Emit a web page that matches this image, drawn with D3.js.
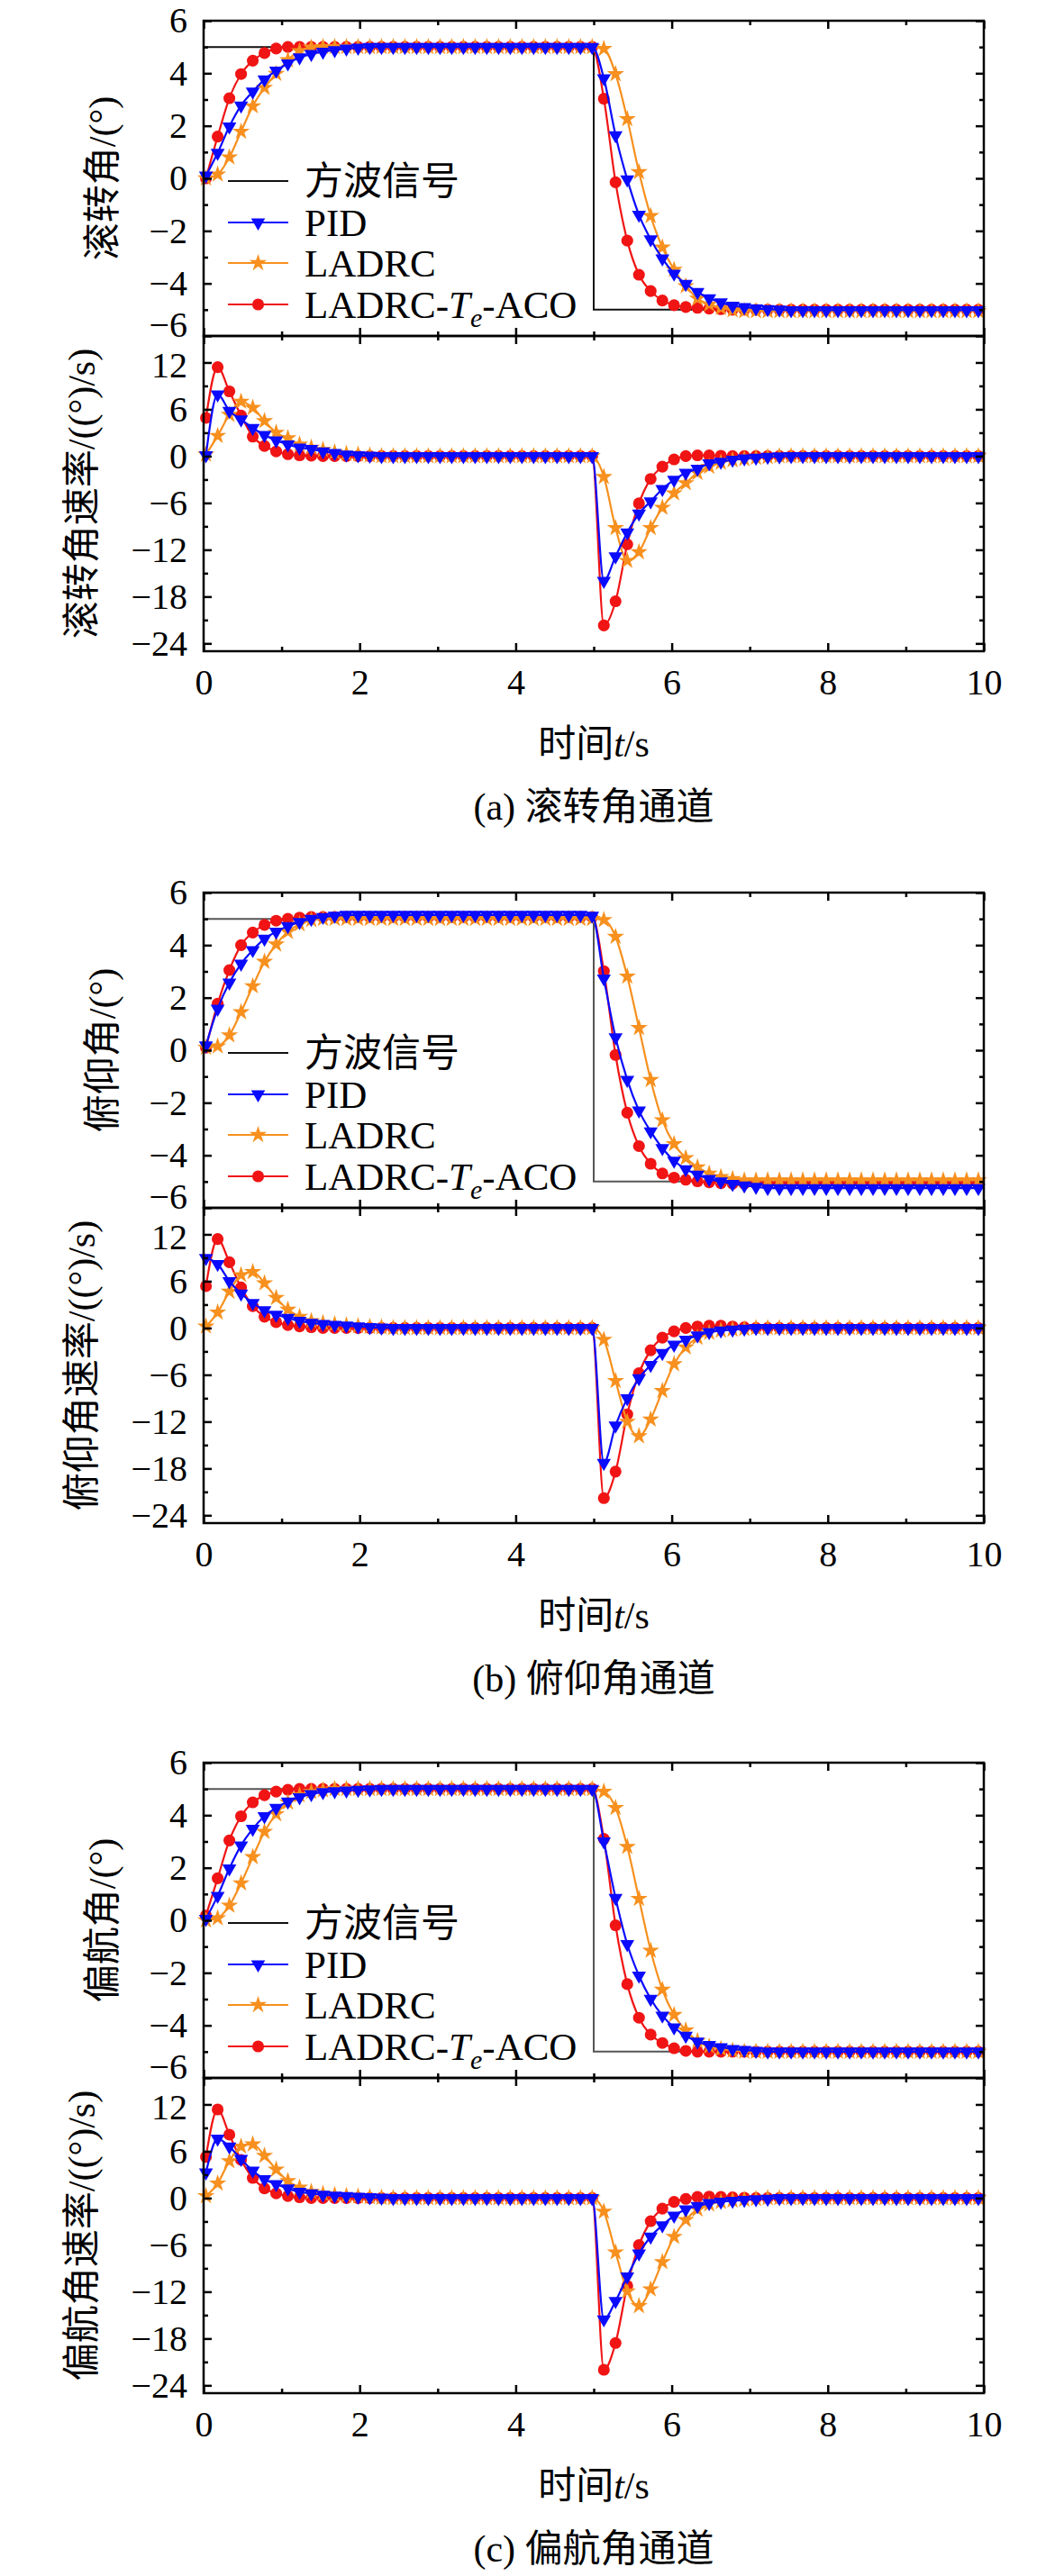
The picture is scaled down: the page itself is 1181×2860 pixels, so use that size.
<!DOCTYPE html>
<html>
<head>
<meta charset="utf-8">
<script src="https://cdn.jsdelivr.net/npm/d3@7"></script>
<style>
  body { margin: 0; background: #fff; }
</style>
</head>
<body>
<div id="chart"></div>
<script>
// sample times of the plotted points (s)
const times = [
  0.03, 0.18, 0.33, 0.48, 0.63, 0.78, 0.93, 1.08, 1.23, 1.38,
  1.53, 1.68, 1.83, 1.98, 2.13, 2.28, 2.43, 2.58, 2.73, 2.88,
  3.03, 3.18, 3.33, 3.48, 3.63, 3.78, 3.93, 4.08, 4.23, 4.38,
  4.53, 4.68, 4.83, 4.98, 5.13, 5.28, 5.43, 5.58, 5.73, 5.88,
  6.03, 6.18, 6.33, 6.48, 6.63, 6.78, 6.93, 7.08, 7.23, 7.38,
  7.53, 7.68, 7.83, 7.98, 8.13, 8.28, 8.43, 8.58, 8.73, 8.88,
  9.03, 9.18, 9.33, 9.48, 9.63, 9.78, 9.93
];

const squareT = [0, 5, 5, 10];
const squareV = [5, 5, -5, -5];

// roll channel
const rollPid = [
  0.1, 0.97, 1.97, 2.77, 3.3, 3.76, 4.1, 4.37, 4.6, 4.73, 4.82, 4.88, 4.94, 4.97, 5, 5,
  5, 5, 5, 5, 5, 5, 5, 5, 5, 5, 5, 5, 5, 5, 5, 5, 5,
  5,
  3.81, 1.64, -0.04, -1.39, -2.32, -3.05, -3.63, -4.02, -4.33, -4.57, -4.72, -4.85, -4.9, -4.95, -4.98, -5,
  -5.02, -5.02, -5.02, -5.02, -5.02, -5.02, -5.02, -5.02, -5.02, -5.02, -5.02, -5.02, -5.02, -5.02, -5.02, -5.02, -5.02
];
const rollLadrc = [
  0, 0.15, 0.8, 1.78, 2.75, 3.45, 3.98, 4.5, 4.85, 4.98, 5, 5, 5, 5, 5, 5,
  5, 5, 5, 5, 5, 5, 5, 5, 5, 5, 5, 5, 5, 5, 5, 5, 5,
  5,
  4.93, 3.97, 2.26, 0.24, -1.43, -2.63, -3.48, -4.1, -4.57, -4.8, -4.93, -5.02, -5.05, -5.05, -5.05, -5.05,
  -5.05, -5.05, -5.05, -5.05, -5.05, -5.05, -5.05, -5.05, -5.05, -5.05, -5.05, -5.05, -5.05, -5.05, -5.05, -5.05, -5.05
];
const rollAco = [
  0, 1.59, 3.05, 3.97, 4.48, 4.77, 4.94, 5, 5, 5, 5, 5, 5, 5, 5, 5,
  5, 5, 5, 5, 5, 5, 5, 5, 5, 5, 5, 5, 5, 5, 5, 5, 5,
  5,
  3.03, -0.15, -2.37, -3.67, -4.29, -4.65, -4.83, -4.9, -4.93, -4.96, -4.98, -5, -5, -5, -5, -5,
  -5, -5, -5, -5, -5, -5, -5, -5, -5, -5, -5, -5, -5, -5, -5, -5, -5
];
const rollRatePid = [
  0.1, 7.9, 5.8, 4.7, 3.6, 2.7, 2.0, 1.5, 1.1, 0.9, 0.6, 0.4, 0.2, 0.1, 0.05, 0,
  0, 0, 0, 0, 0, 0, 0, 0, 0, 0, 0, 0, 0, 0, 0, 0, 0,
  0,
  -16.0, -12.85, -9.8, -7.37, -5.8, -4.23, -3.03, -2.14, -1.62, -0.94, -0.73, -0.47, -0.31, -0.2, -0.1, -0.05,
  0, 0, 0, 0, 0, 0, 0, 0, 0, 0, 0, 0, 0, 0, 0, 0, 0
];
const rollRateLadrc = [
  0.2, 2.6, 5.3, 7.0, 6.2, 4.5, 3.0, 2.3, 1.5, 1.1, 0.8, 0.5, 0.3, 0.2, 0.1, 0,
  0, 0, 0, 0, 0, 0, 0, 0, 0, 0, 0, 0, 0, 0, 0, 0, 0,
  0,
  -2.66, -9.2, -13.4, -12.3, -9.2, -6.6, -4.75, -3.45, -2.14, -1.35, -0.83, -0.52, -0.35, -0.2, -0.1, 0,
  0, 0, 0, 0, 0, 0, 0, 0, 0, 0, 0, 0, 0, 0, 0, 0, 0
];
const rollRateAco = [
  4.9, 11.4, 8.3, 5.2, 2.5, 1.3, 0.6, 0.25, 0.1, 0.05, 0, 0, 0, 0, 0, 0,
  0, 0, 0, 0, 0, 0, 0, 0, 0, 0, 0, 0, 0, 0, 0, 0, 0,
  0,
  -21.7, -18.6, -11.3, -6.06, -2.92, -1.35, -0.42, 0, 0.1, 0.1, 0.05, 0, 0, 0, 0, 0,
  0, 0, 0, 0, 0, 0, 0, 0, 0, 0, 0, 0, 0, 0, 0, 0, 0
];

// pitch channel
const pitchPid = [
  0.18, 1.58, 2.57, 3.29, 3.81, 4.24, 4.51, 4.72, 4.88, 5.0, 5.07, 5.12, 5.15, 5.15, 5.15, 5.15,
  5.15, 5.15, 5.15, 5.15, 5.15, 5.15, 5.15, 5.15, 5.15, 5.15, 5.15, 5.15, 5.15, 5.15, 5.15, 5.15, 5.15,
  5.12,
  2.73, 0.49, -1.13, -2.3, -3.09, -3.73, -4.21, -4.53, -4.74, -4.9, -5.0, -5.09, -5.15, -5.2, -5.25, -5.25,
  -5.25, -5.25, -5.25, -5.25, -5.25, -5.25, -5.25, -5.25, -5.25, -5.25, -5.25, -5.25, -5.25, -5.25, -5.25, -5.25, -5.25
];
const pitchLadrc = [
  0.1, 0.15, 0.57, 1.45, 2.44, 3.37, 4.03, 4.51, 4.8, 4.96, 5, 5, 5, 5, 5, 5,
  5, 5, 5, 5, 5, 5, 5, 5, 5, 5, 5, 5, 5, 5, 5, 5, 5,
  5,
  4.96, 4.32, 2.81, 0.85, -1.13, -2.66, -3.57, -4.1, -4.45, -4.69, -4.82, -4.9, -4.95, -4.95, -4.95, -4.95,
  -4.95, -4.95, -4.95, -4.95, -4.95, -4.95, -4.95, -4.95, -4.95, -4.95, -4.95, -4.95, -4.95, -4.95, -4.95, -4.95, -4.95
];
const pitchAco = [
  0.1, 1.77, 3.05, 4.0, 4.48, 4.77, 4.93, 5.0, 5.05, 5.07, 5.07, 5.07, 5.07, 5.07, 5.07, 5.07,
  5.07, 5.07, 5.07, 5.07, 5.07, 5.07, 5.07, 5.07, 5.07, 5.07, 5.07, 5.07, 5.07, 5.07, 5.07, 5.07, 5.07,
  5.07,
  3.01, -0.18, -2.38, -3.65, -4.32, -4.69, -4.85, -4.93, -4.99, -5.03, -5.06, -5.08, -5.08, -5.08, -5.08, -5.08,
  -5.08, -5.08, -5.08, -5.08, -5.08, -5.08, -5.08, -5.08, -5.08, -5.08, -5.08, -5.08, -5.08, -5.08, -5.08, -5.08, -5.08
];
const pitchRatePid = [
  8.97, 8.2, 6.0, 4.4, 3.2, 2.26, 1.7, 1.3, 0.9, 0.65, 0.5, 0.4, 0.3, 0.2, 0.1, 0.05,
  0, 0, 0, 0, 0, 0, 0, 0, 0, 0, 0, 0, 0, 0, 0, 0, 0,
  0,
  -17.3, -12.5, -9.0, -6.45, -4.73, -3.22, -2.15, -1.5, -0.97, -0.54, -0.32, -0.2, -0.1, 0, 0, 0,
  0, 0, 0, 0, 0, 0, 0, 0, 0, 0, 0, 0, 0, 0, 0, 0, 0
];
const pitchRateLadrc = [
  0.2, 2.0, 4.67, 6.8, 7.2, 5.75, 3.87, 2.36, 1.45, 0.9, 0.65, 0.5, 0.35, 0.25, 0.15, 0.1,
  0, 0, 0, 0, 0, 0, 0, 0, 0, 0, 0, 0, 0, 0, 0, 0, 0,
  0,
  -1.5, -6.77, -12.0, -13.86, -11.7, -8.06, -4.62, -2.47, -1.24, -0.6, -0.32, -0.2, -0.1, 0, 0, 0,
  0, 0, 0, 0, 0, 0, 0, 0, 0, 0, 0, 0, 0, 0, 0, 0, 0
];
const pitchRateAco = [
  5.37, 11.4, 8.43, 5.2, 2.8, 1.45, 0.75, 0.38, 0.2, 0.1, 0, 0, 0, 0, 0, 0,
  0, 0, 0, 0, 0, 0, 0, 0, 0, 0, 0, 0, 0, 0, 0, 0, 0,
  0,
  -21.8, -18.4, -11.06, -5.8, -2.85, -1.24, -0.43, 0, 0.2, 0.3, 0.3, 0.2, 0.1, 0, 0, 0,
  0, 0, 0, 0, 0, 0, 0, 0, 0, 0, 0, 0, 0, 0, 0, 0, 0
];

// yaw channel
const yawPid = [
  0.05, 0.93, 1.97, 2.85, 3.48, 3.96, 4.28, 4.52, 4.68, 4.8, 4.88, 4.91, 4.94, 4.96, 4.98, 5,
  5, 5, 5, 5, 5, 5, 5, 5, 5, 5, 5, 5, 5, 5, 5, 5, 5,
  5,
  3.0, 0.85, -0.91, -2.11, -2.99, -3.63, -4.08, -4.4, -4.62, -4.75, -4.83, -4.9, -4.94, -4.97, -5, -5,
  -5, -5, -5, -5, -5, -5, -5, -5, -5, -5, -5, -5, -5, -5, -5, -5, -5
];
const yawLadrc = [
  0, 0.08, 0.56, 1.41, 2.41, 3.37, 4.04, 4.49, 4.76, 4.89, 4.95, 5, 5, 5, 5, 5,
  5, 5, 5, 5, 5, 5, 5, 5, 5, 5, 5, 5, 5, 5, 5, 5, 5,
  5,
  4.9, 4.28, 2.8, 0.82, -1.15, -2.64, -3.6, -4.19, -4.59, -4.8, -4.9, -4.96, -5, -5, -5, -5,
  -5, -5, -5, -5, -5, -5, -5, -5, -5, -5, -5, -5, -5, -5, -5, -5, -5
];
const yawAco = [
  0.18, 1.6, 3.04, 3.96, 4.49, 4.76, 4.9, 4.97, 5, 5, 5, 5, 5, 5, 5, 5,
  5, 5, 5, 5, 5, 5, 5, 5, 5, 5, 5, 5, 5, 5, 5, 5, 5,
  5,
  3.1, -0.19, -2.43, -3.71, -4.35, -4.67, -4.87, -4.97, -5, -5, -5, -5, -5, -5, -5, -5,
  -5, -5, -5, -5, -5, -5, -5, -5, -5, -5, -5, -5, -5, -5, -5, -5, -5
];
const yawRatePid = [
  3.28, 7.6, 6.6, 5.0, 3.5, 2.42, 1.78, 1.24, 0.8, 0.6, 0.43, 0.32, 0.25, 0.15, 0.1, 0.05,
  0, 0, 0, 0, 0, 0, 0, 0, 0, 0, 0, 0, 0, 0, 0, 0, 0,
  0,
  -15.55, -13.2, -10.06, -7.1, -4.95, -3.5, -2.26, -1.45, -1.02, -0.65, -0.48, -0.35, -0.25, -0.15, -0.1, 0,
  0, 0, 0, 0, 0, 0, 0, 0, 0, 0, 0, 0, 0, 0, 0, 0, 0
];
const yawRateLadrc = [
  0.27, 1.88, 4.74, 6.62, 6.89, 5.44, 3.66, 2.2, 1.35, 0.8, 0.55, 0.4, 0.3, 0.2, 0.12, 0.05,
  0, 0, 0, 0, 0, 0, 0, 0, 0, 0, 0, 0, 0, 0, 0, 0, 0,
  0,
  -1.72, -6.94, -11.95, -13.83, -11.68, -8.18, -4.95, -2.8, -1.45, -0.8, -0.48, -0.3, -0.2, -0.1, 0, 0,
  0, 0, 0, 0, 0, 0, 0, 0, 0, 0, 0, 0, 0, 0, 0, 0, 0
];
const yawRateAco = [
  5.27, 11.36, 8.13, 4.9, 2.58, 1.24, 0.6, 0.27, 0.1, 0, 0, 0, 0, 0, 0, 0,
  0, 0, 0, 0, 0, 0, 0, 0, 0, 0, 0, 0, 0, 0, 0, 0, 0,
  0,
  -22.0, -18.57, -11.25, -6.03, -2.96, -1.35, -0.48, -0.1, 0.16, 0.2, 0.15, 0.1, 0.05, 0, 0, 0,
  0, 0, 0, 0, 0, 0, 0, 0, 0, 0, 0, 0, 0, 0, 0, 0, 0
];

const xTicks = [0, 2, 4, 6, 8, 10];
const xMinor = [1, 3, 5, 7, 9];
const angleTicks = [-6, -4, -2, 0, 2, 4, 6];
const angleMinor = [-5, -3, -1, 1, 3, 5];
const rateTicks = [-24, -18, -12, -6, 0, 6, 12];
const rateMinor = [-21, -15, -9, -3, 3, 9];

const channels = [
  { top: 23, name: '滚转角', caption: '(a) 滚转角通道', sqColor: '#111',
    angle: [rollPid, rollLadrc, rollAco], rate: [rollRatePid, rollRateLadrc, rollRateAco] },
  { top: 991, name: '俯仰角', caption: '(b) 俯仰角通道', sqColor: '#555',
    angle: [pitchPid, pitchLadrc, pitchAco], rate: [pitchRatePid, pitchRateLadrc, pitchRateAco] },
  { top: 1957, name: '偏航角', caption: '(c) 偏航角通道', sqColor: '#555',
    angle: [yawPid, yawLadrc, yawAco], rate: [yawRatePid, yawRateLadrc, yawRateAco] }
];

const series = [
  { label: 'PID', color: '#0a0aff', symbol: d3.symbolTriangle, size: 105, rotate: 180 },
  { label: 'LADRC', color: '#f7901e', symbol: d3.symbolStar, size: 115, rotate: 0 },
  { label: 'LADRC-Te-ACO', color: '#f01414', symbol: d3.symbolCircle, size: 135, rotate: 0 }
];

const W = 1181, H = 2860;
const left = 226, right = 1092, panelH = 350;
const serif = "'Liberation Serif', 'Times New Roman', 'Noto Sans CJK SC', serif";
const fs = 42;
const tickFs = 40;

const svg = d3.select('#chart').append('svg')
  .attr('width', W)
  .attr('height', H)
  .style('background', '#fff');

const x = d3.scaleLinear().domain([0, 10]).range([left, right]);

function styleAxis(g) {
  g.select('.domain').remove();
  g.selectAll('line').attr('stroke', '#000').attr('stroke-width', 2.5);
  g.selectAll('text')
    .attr('fill', '#000')
    .style('font-family', serif)
    .style('font-size', tickFs + 'px');
}

function frame(g, y, top, major, minor, isRate) {
  const bottom = top + panelH;
  const add = (axis, tx, ty) => g.append('g')
    .attr('transform', `translate(${tx},${ty})`)
    .call(axis)
    .call(styleAxis);

  // y ticks, left with labels, right mirrored
  const yl = add(d3.axisLeft(y).tickValues(major).tickSize(-9).tickSizeOuter(0).tickPadding(18), left, 0);
  // keep the end labels of the two stacked panels apart
  yl.selectAll('text').filter(d => d === -6 && !isRate).attr('dy', '0em');
  yl.selectAll('text').filter(d => d === 12 && isRate).attr('dy', '0.4em');
  add(d3.axisLeft(y).tickValues(minor).tickSize(-5).tickSizeOuter(0).tickFormat(''), left, 0);
  add(d3.axisRight(y).tickValues(major).tickSize(-9).tickSizeOuter(0).tickFormat(''), right, 0);
  add(d3.axisRight(y).tickValues(minor).tickSize(-5).tickSizeOuter(0).tickFormat(''), right, 0);

  // x ticks on top and bottom
  add(d3.axisTop(x).tickValues(xTicks).tickSize(-9).tickSizeOuter(0).tickFormat(''), 0, top);
  add(d3.axisTop(x).tickValues(xMinor).tickSize(-5).tickSizeOuter(0).tickFormat(''), 0, top);
  const xb = d3.axisBottom(x).tickValues(xTicks).tickSize(-9).tickSizeOuter(0).tickPadding(20);
  if (!isRate) xb.tickFormat('');
  add(xb, 0, bottom);
  add(d3.axisBottom(x).tickValues(xMinor).tickSize(-5).tickSizeOuter(0).tickFormat(''), 0, bottom);

  g.append('rect')
    .attr('x', left).attr('y', top)
    .attr('width', right - left).attr('height', panelH)
    .attr('fill', 'none')
    .attr('stroke', '#000')
    .attr('stroke-width', 2.5);
}

function drawSeries(g, y, values, s) {
  const pts = times.map((t, i) => [t, values[i]]);
  g.append('path')
    .datum(pts)
    .attr('fill', 'none')
    .attr('stroke', s.color)
    .attr('stroke-width', 2.2)
    .attr('d', d3.line().x(d => x(d[0])).y(d => y(d[1])).curve(d3.curveMonotoneX));
  g.selectAll(null)
    .data(pts)
    .join('path')
    .attr('transform', d => `translate(${x(d[0])},${y(d[1])}) rotate(${s.rotate})`)
    .attr('d', d3.symbol(s.symbol, s.size))
    .attr('fill', s.color);
}

function legend(g, top) {
  const rows = [top + 178, top + 224, top + 269, top + 315];
  const lx1 = 253, lx2 = 320, tx = 338;
  g.append('line')
    .attr('x1', lx1).attr('x2', lx2).attr('y1', rows[0]).attr('y2', rows[0])
    .attr('stroke', '#111').attr('stroke-width', 2.2);
  g.append('text')
    .attr('x', tx).attr('y', rows[0] + 15)
    .style('font-family', serif).style('font-size', '43px')
    .text('方波信号');
  series.forEach((s, i) => {
    const yy = rows[i + 1];
    g.append('line')
      .attr('x1', lx1).attr('x2', lx2).attr('y1', yy).attr('y2', yy)
      .attr('stroke', s.color).attr('stroke-width', 2.2);
    g.append('path')
      .attr('transform', `translate(${(lx1 + lx2) / 2},${yy}) rotate(${s.rotate})`)
      .attr('d', d3.symbol(s.symbol, s.size))
      .attr('fill', s.color);
    const t = g.append('text')
      .attr('x', tx).attr('y', yy + 15)
      .style('font-family', serif).style('font-size', '43px');
    if (s.label === 'LADRC-Te-ACO') {
      t.append('tspan').text('LADRC-');
      t.append('tspan').style('font-style', 'italic').text('T');
      t.append('tspan').style('font-style', 'italic').style('font-size', '30px').attr('dy', 10).text('e');
      t.append('tspan').attr('dy', -10).text('-ACO');
    } else {
      t.text(s.label);
    }
  });
}

channels.forEach(ch => {
  const g = svg.append('g');
  const top = ch.top;
  const yA = d3.scaleLinear().domain([-6, 6]).range([top + panelH, top]);
  const yR = d3.scaleLinear().domain([-25, 15.4]).range([top + 2 * panelH, top + panelH]);

  // square wave reference
  g.append('path')
    .datum(squareT.map((t, i) => [t, squareV[i]]))
    .attr('fill', 'none')
    .attr('stroke', ch.sqColor)
    .attr('stroke-width', 2)
    .attr('d', d3.line().x(d => x(d[0])).y(d => yA(d[1])));

  [2, 1, 0].forEach(i => drawSeries(g, yA, ch.angle[i], series[i]));
  [2, 1, 0].forEach(i => drawSeries(g, yR, ch.rate[i], series[i]));

  frame(g, yA, top, angleTicks, angleMinor, false);
  frame(g, yR, top + panelH, rateTicks, rateMinor, true);

  legend(g, top);

  // axis titles
  g.append('text')
    .attr('transform', `translate(114,${top + 175}) rotate(-90)`)
    .attr('text-anchor', 'middle')
    .attr('dominant-baseline', 'central')
    .style('font-family', serif).style('font-size', fs + 'px')
    .text(ch.name + '/(°)');
  g.append('text')
    .attr('transform', `translate(91,${top + 525}) rotate(-90)`)
    .attr('text-anchor', 'middle')
    .attr('dominant-baseline', 'central')
    .style('font-family', serif).style('font-size', fs + 'px')
    .text(ch.name + '速率/((°)/s)');

  const xl = g.append('text')
    .attr('x', (left + right) / 2).attr('y', top + 817)
    .attr('text-anchor', 'middle')
    .style('font-family', serif).style('font-size', fs + 'px');
  xl.append('tspan').text('时间');
  xl.append('tspan').style('font-style', 'italic').text('t');
  xl.append('tspan').text('/s');

  g.append('text')
    .attr('x', (left + right) / 2).attr('y', top + 887)
    .attr('text-anchor', 'middle')
    .style('font-family', serif).style('font-size', fs + 'px')
    .text(ch.caption);
});
</script>
</body>
</html>
